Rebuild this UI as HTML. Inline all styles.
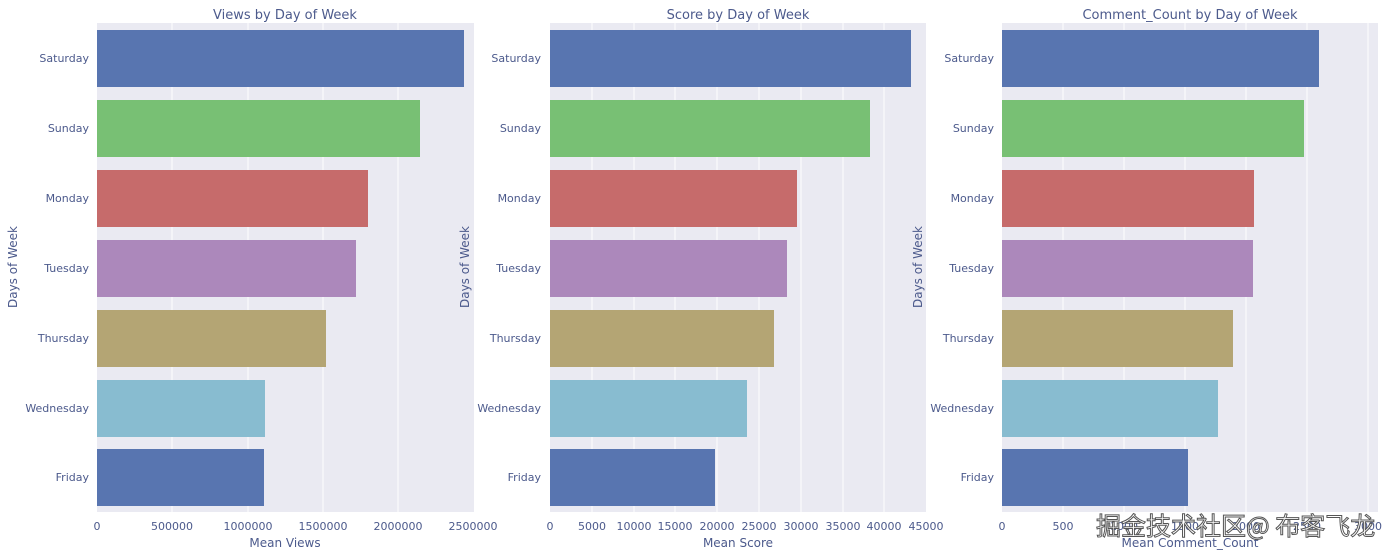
<!DOCTYPE html>
<html><head><meta charset="utf-8"><style>
body{margin:0;background:#fff;}
svg{display:block;font-family:"DejaVu Sans","Liberation Sans",sans-serif;}
.t{fill:#4c5a8c;font-size:11px;}
.ti{fill:#4c5a8c;font-size:13px;}
.al{fill:#4c5a8c;font-size:12px;}
</style></head><body>
<svg width="1400" height="557" viewBox="0 0 1400 557">
<!-- Panel 1 -->
<rect x="97" y="23" width="377" height="489" fill="#eaeaf2"/>
<g stroke="#fff" stroke-width="1">
<line x1="172" y1="23" x2="172" y2="512"/><line x1="248" y1="23" x2="248" y2="512"/><line x1="323" y1="23" x2="323" y2="512"/><line x1="398" y1="23" x2="398" y2="512"/>
</g>
<rect x="97" y="30" width="367" height="57" fill="#5875b0"/>
<rect x="97" y="100" width="323" height="57" fill="#78c074"/>
<rect x="97" y="170" width="271" height="57" fill="#c66b6b"/>
<rect x="97" y="240" width="259" height="57" fill="#ac88bb"/>
<rect x="97" y="310" width="229" height="57" fill="#b4a574"/>
<rect x="97" y="380" width="168" height="57" fill="#88bcd0"/>
<rect x="97" y="449" width="167" height="57" fill="#5875b0"/>
<text class="ti" x="285" y="19" text-anchor="middle">Views by Day of Week</text>
<g class="t" text-anchor="end">
<text x="89" y="62">Saturday</text><text x="89" y="132">Sunday</text><text x="89" y="202">Monday</text><text x="89" y="272">Tuesday</text><text x="89" y="342">Thursday</text><text x="89" y="412">Wednesday</text><text x="89" y="481">Friday</text>
</g>
<g class="t" text-anchor="middle">
<text x="97" y="530">0</text><text x="172" y="530">500000</text><text x="248" y="530">1000000</text><text x="323" y="530">1500000</text><text x="398" y="530">2000000</text><text x="473" y="530">2500000</text>
</g>
<text class="al" x="285" y="547" text-anchor="middle">Mean Views</text>
<text class="al" transform="translate(17,267) rotate(-90)" text-anchor="middle">Days of Week</text>

<!-- Panel 2 -->
<rect x="550" y="23" width="376" height="489" fill="#eaeaf2"/>
<g stroke="#fff" stroke-width="1">
<line x1="592" y1="23" x2="592" y2="512"/><line x1="634" y1="23" x2="634" y2="512"/><line x1="675" y1="23" x2="675" y2="512"/><line x1="717" y1="23" x2="717" y2="512"/><line x1="759" y1="23" x2="759" y2="512"/><line x1="801" y1="23" x2="801" y2="512"/><line x1="843" y1="23" x2="843" y2="512"/><line x1="884" y1="23" x2="884" y2="512"/>
</g>
<rect x="550" y="30" width="361" height="57" fill="#5875b0"/>
<rect x="550" y="100" width="320" height="57" fill="#78c074"/>
<rect x="550" y="170" width="247" height="57" fill="#c66b6b"/>
<rect x="550" y="240" width="237" height="57" fill="#ac88bb"/>
<rect x="550" y="310" width="224" height="57" fill="#b4a574"/>
<rect x="550" y="380" width="197" height="57" fill="#88bcd0"/>
<rect x="550" y="449" width="165" height="57" fill="#5875b0"/>
<text class="ti" x="738" y="19" text-anchor="middle">Score by Day of Week</text>
<g class="t" text-anchor="end">
<text x="541" y="62">Saturday</text><text x="541" y="132">Sunday</text><text x="541" y="202">Monday</text><text x="541" y="272">Tuesday</text><text x="541" y="342">Thursday</text><text x="541" y="412">Wednesday</text><text x="541" y="481">Friday</text>
</g>
<g class="t" text-anchor="middle">
<text x="550" y="530">0</text><text x="592" y="530">5000</text><text x="634" y="530">10000</text><text x="675" y="530">15000</text><text x="717" y="530">20000</text><text x="759" y="530">25000</text><text x="801" y="530">30000</text><text x="843" y="530">35000</text><text x="884" y="530">40000</text><text x="926" y="530">45000</text>
</g>
<text class="al" x="738" y="547" text-anchor="middle">Mean Score</text>
<text class="al" transform="translate(469,267) rotate(-90)" text-anchor="middle">Days of Week</text>

<!-- Panel 3 -->
<rect x="1002" y="23" width="376" height="489" fill="#eaeaf2"/>
<g stroke="#fff" stroke-width="1">
<line x1="1063" y1="23" x2="1063" y2="512"/><line x1="1124" y1="23" x2="1124" y2="512"/><line x1="1185" y1="23" x2="1185" y2="512"/><line x1="1246" y1="23" x2="1246" y2="512"/><line x1="1307" y1="23" x2="1307" y2="512"/><line x1="1368" y1="23" x2="1368" y2="512"/>
</g>
<rect x="1002" y="30" width="317" height="57" fill="#5875b0"/>
<rect x="1002" y="100" width="302" height="57" fill="#78c074"/>
<rect x="1002" y="170" width="252" height="57" fill="#c66b6b"/>
<rect x="1002" y="240" width="251" height="57" fill="#ac88bb"/>
<rect x="1002" y="310" width="231" height="57" fill="#b4a574"/>
<rect x="1002" y="380" width="216" height="57" fill="#88bcd0"/>
<rect x="1002" y="449" width="186" height="57" fill="#5875b0"/>
<text class="ti" x="1190" y="19" text-anchor="middle">Comment_Count by Day of Week</text>
<g class="t" text-anchor="end">
<text x="994" y="62">Saturday</text><text x="994" y="132">Sunday</text><text x="994" y="202">Monday</text><text x="994" y="272">Tuesday</text><text x="994" y="342">Thursday</text><text x="994" y="412">Wednesday</text><text x="994" y="481">Friday</text>
</g>
<g class="t" text-anchor="middle">
<text x="1002" y="530">0</text><text x="1063" y="530">500</text><text x="1124" y="530">1000</text><text x="1185" y="530">1500</text><text x="1246" y="530">2000</text><text x="1307" y="530">2500</text><text x="1368" y="530">3000</text>
</g>
<text class="al" x="1190" y="547" text-anchor="middle">Mean Comment_Count</text>
<text class="al" transform="translate(922,267) rotate(-90)" text-anchor="middle">Days of Week</text>

<text x="1096" y="535" font-family="'Noto Sans CJK SC',sans-serif" font-size="25" fill="#fff" stroke="#555" stroke-width="1">掘金技术社区@ 布客飞龙</text>
</svg>
</body></html>
